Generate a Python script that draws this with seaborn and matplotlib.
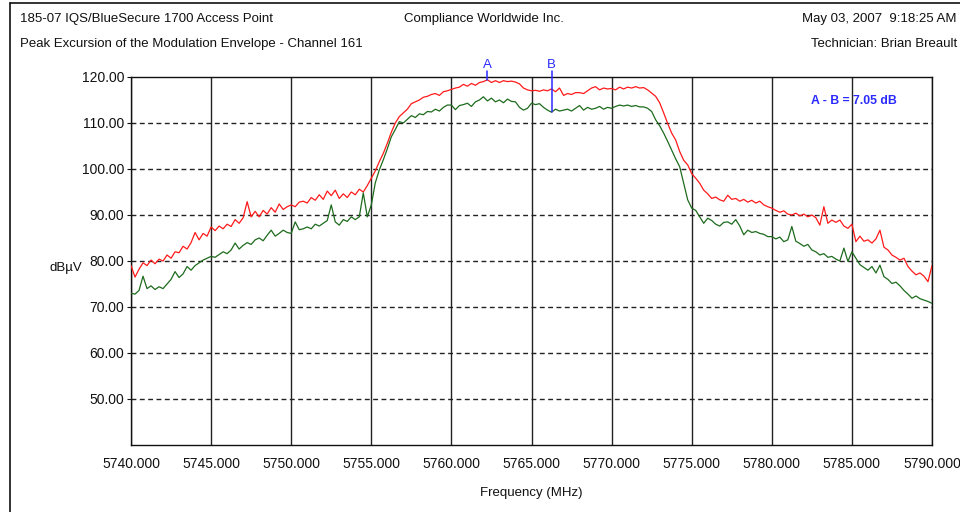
import numpy as np
import pandas as pd
import matplotlib
matplotlib.use("Agg")
import matplotlib.pyplot as plt
from matplotlib.lines import Line2D
import seaborn as sns

# Sweep settings: 5740–5790 MHz, one reading every 0.25 MHz
freq_start = 5740.0
freq_step = 0.25

# Peak trace (dBµV)
peak_trace = [
    79.0, 76.5, 78.2, 79.6,  79.0, 80.2, 79.4, 80.4,  80.0, 81.3, 80.6, 82.0,
    81.8, 83.2, 82.6, 84.0,  86.2, 84.6, 86.0, 85.4,  87.4, 86.6, 87.6, 87.0,
    88.0, 87.5, 89.0, 88.2,  89.4, 92.9, 89.6, 90.8,  89.6, 91.0, 90.2, 91.6,
    90.6, 92.4, 91.2, 91.8,  92.2, 91.8, 92.8, 93.0,  92.6, 93.8, 93.2, 94.4,
    93.4, 95.2, 94.2, 95.4,  93.6, 94.6, 93.8, 95.0,  94.4, 95.6, 95.0, 96.4,
    98.0, 99.6, 101.6, 103.4,  105.6, 108.0, 110.0, 111.4,  112.2, 113.0, 114.2, 114.6,
    115.0, 115.6, 115.8, 116.2,  116.4, 116.0, 116.8, 117.0,  117.3, 117.6, 117.8, 118.4,
    118.0, 118.6, 118.2, 118.8,  119.0, 119.4, 118.8, 119.2,  118.8, 119.2, 119.0, 119.1,
    118.9, 118.5, 117.6, 117.2,  117.0, 117.1, 116.9, 117.2,  117.0, 117.4, 116.8, 117.6,
    116.0, 116.4, 116.2, 116.6,  116.6, 116.4, 117.0, 117.6,  117.9, 117.2, 117.6, 117.4,
    117.5, 117.2, 117.8, 117.4,  117.8, 117.6, 117.9, 117.6,  117.7, 117.2, 116.5, 115.8,
    114.4, 112.2, 109.9, 107.8,  106.3, 103.8, 101.9, 100.9,  99.0, 98.0, 96.9, 95.4,
    94.6, 93.6, 93.9, 93.3,  93.0, 94.3, 93.4, 93.6,  93.0, 93.4, 92.8, 93.2,
    92.6, 93.0, 92.2, 91.8,  91.5, 91.0, 90.6, 90.9,  90.2, 90.0, 90.4, 89.8,
    90.2, 89.6, 90.0, 89.4,  87.8, 91.8, 88.2, 88.9,  88.4, 88.9, 87.6, 87.1,
    88.0, 84.2, 85.4, 84.3,  84.6, 83.9, 84.8, 86.7,  83.0, 82.4, 81.3, 80.8,
    80.2, 80.6, 78.8, 77.8,  77.0, 77.4, 76.7, 75.5,  79.0,
]

# Average trace (dBµV)
avg_trace = [
    73.0, 72.8, 73.6, 76.7,  74.0, 74.6, 73.8, 74.4,  74.0, 75.0, 76.0, 77.7,
    76.4, 77.2, 78.8, 78.0,  79.0, 79.6, 80.2, 80.6,  81.0, 80.8, 81.4, 82.0,
    81.6, 82.4, 83.9, 82.6,  83.4, 84.0, 83.6, 84.6,  85.0, 84.4, 85.6, 86.7,
    85.4, 86.0, 86.7, 86.2,  86.0, 88.5, 86.8, 87.0,  87.4, 87.0, 88.0, 87.6,
    88.2, 88.8, 92.2, 88.5,  87.8, 89.0, 88.6, 89.6,  89.0, 89.6, 94.8, 89.6,
    92.2, 97.0, 99.8, 102.0,  104.4, 107.0, 108.6, 110.3,  110.0, 110.8, 111.6, 111.2,
    112.0, 111.8, 112.5, 112.4,  113.0, 112.6, 113.4, 113.9,  113.9, 112.9, 113.8, 114.0,
    114.3, 113.6, 114.6, 115.0,  115.7, 114.8, 115.4, 114.6,  115.0, 114.4, 115.2, 114.7,
    114.6, 113.4, 112.8, 113.2,  114.3, 114.0, 114.2, 113.4,  112.8, 112.35, 113.0, 112.6,
    112.8, 113.0, 112.6, 113.2,  113.8, 112.8, 113.4, 113.0,  113.2, 113.6, 113.0, 113.4,
    113.2, 113.6, 113.9, 113.7,  113.9, 113.6, 113.8, 113.5,  113.5, 113.2, 112.5, 110.7,
    109.4, 107.8, 106.0, 104.1,  102.2, 100.5, 96.9, 93.3,  91.5, 91.0, 89.6, 88.2,
    89.3, 88.8, 88.0, 87.6,  88.4, 88.5, 88.0, 89.0,  87.6, 85.7, 86.7, 86.2,
    86.4, 86.0, 85.8, 85.3,  85.3, 84.8, 85.2, 84.2,  84.6, 87.5, 84.3, 83.8,
    83.2, 83.6, 82.4, 82.0,  81.3, 81.6, 80.8, 81.0,  80.4, 80.0, 82.8, 79.9,
    82.0, 80.6, 79.2, 78.6,  78.0, 78.8, 77.4, 79.1,  76.6, 76.0, 75.1, 75.4,
    74.6, 73.6, 72.8, 71.9,  72.4, 71.8, 71.5, 71.2,  70.8,
]

x_ticks = [5740, 5745, 5750, 5755, 5760, 5765, 5770, 5775, 5780, 5785, 5790]
y_ticks = [50, 60, 70, 80, 90, 100, 110, 120]

marker_a_freq = 5762.25   # marker A on the peak trace
marker_b_freq = 5766.25   # marker B on the average trace

freqs = freq_start + freq_step * np.arange(len(peak_trace))
df = pd.DataFrame({
    "freq": np.concatenate([freqs, freqs]),
    "level": np.concatenate([peak_trace, avg_trace]),
    "trace": ["Peak"] * len(freqs) + ["Average"] * len(freqs),
})

sns.set_theme(style="white")
plt.rcParams["font.family"] = ["Liberation Sans", "DejaVu Sans"]

fig = plt.figure(figsize=(9.6, 5.12), dpi=100)
ax = fig.add_axes([131 / 960, 1 - 445 / 512, 801 / 960, 368 / 512])

# grid first so the traces sit on top
for xv in x_ticks:
    ax.axvline(xv, color="#222222", lw=1.0, zorder=1)
for yv in y_ticks[:-1]:
    ax.axhline(yv, color="#222222", lw=1.0, ls=(0, (3.5, 2.5)), zorder=1)

sns.lineplot(data=df, x="freq", y="level", hue="trace",
             palette={"Peak": "#ff1a1a", "Average": "#1d6b1d"},
             hue_order=["Peak", "Average"], lw=0.9, legend=False,
             estimator=None, ax=ax, zorder=3)

ax.set_xlim(5740, 5790)
ax.set_ylim(40, 120)
ax.set_xticks(x_ticks)
ax.set_xticklabels([f"{v:.3f}" for v in x_ticks])
ax.set_yticks(y_ticks)
ax.set_yticklabels([f"{v:.2f}" for v in y_ticks])
ax.tick_params(axis="both", labelsize=10, colors="#111111")
ax.tick_params(axis="y", length=3, width=0.8, direction="out", pad=2, left=True)
ax.tick_params(axis="x", length=0, pad=9)
for s in ax.spines.values():
    s.set_color("#111111")
    s.set_linewidth(1.0)

ax.set_xlabel("Frequency (MHz)", fontsize=9.5, labelpad=11, color="#111111")
ax.set_ylabel("")
fig.text(50 / 960, 1 - 268 / 512, "dBµV", fontsize=9.5, ha="left", va="center",
         color="#111111")

# markers
a_idx = int(round((marker_a_freq - freq_start) / freq_step))
b_idx = int(round((marker_b_freq - freq_start) / freq_step))
a_val = peak_trace[a_idx]
b_val = avg_trace[b_idx]
blue = "#2a2aff"
ax.plot([marker_a_freq, marker_a_freq], [a_val, 121.3], color=blue, lw=1.1,
        clip_on=False, zorder=4)
ax.plot([marker_b_freq, marker_b_freq], [b_val, 121.3], color=blue, lw=1.1,
        clip_on=False, zorder=4)
ax.text(marker_a_freq, 121.4, "A", color=blue, fontsize=9.5, ha="center",
        va="bottom", clip_on=False)
ax.text(marker_b_freq, 121.4, "B", color=blue, fontsize=9.5, ha="center",
        va="bottom", clip_on=False)
ax.text(5787.8, 114.85, f"A - B = {a_val - b_val:.2f} dB", color=blue,
        fontsize=8.8, fontweight="bold", ha="right", va="center")

# report header
hdr = dict(fontsize=9.5, color="#111111", va="center")
fig.text(20 / 960, 1 - 19 / 512, "185-07 IQS/BlueSecure 1700 Access Point", ha="left", **hdr)
fig.text(20 / 960, 1 - 44 / 512, "Peak Excursion of the Modulation Envelope - Channel 161", ha="left", **hdr)
fig.text(484 / 960, 1 - 19 / 512, "Compliance Worldwide Inc.", ha="center", **hdr)
fig.text(957 / 960, 1 - 19 / 512, "May 03, 2007  9:18:25 AM", ha="right", **hdr)
fig.text(957 / 960, 1 - 44 / 512, "Technician: Brian Breault", ha="right", **hdr)

# page frame
fig.add_artist(Line2D([10 / 960, 10 / 960], [0, 1 - 3 / 512], color="#111111",
                      lw=1.2, transform=fig.transFigure))
fig.add_artist(Line2D([10 / 960, 1], [1 - 3 / 512, 1 - 3 / 512], color="#111111",
                      lw=1.2, transform=fig.transFigure))

fig.savefig("out.png", dpi=100, facecolor="white")
